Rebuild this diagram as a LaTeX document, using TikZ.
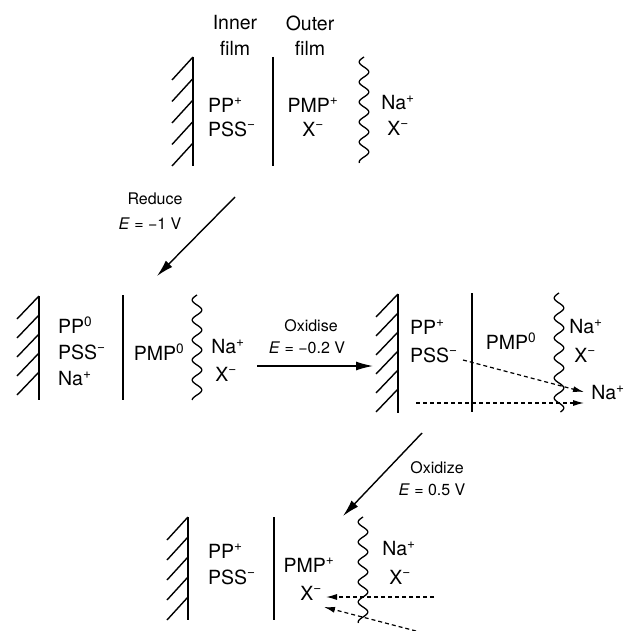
\documentclass[tikz,border=0pt]{standalone}
\usepackage{fontspec}
\setmainfont{TeX Gyre Heros}
\usetikzlibrary{arrows.meta}
\newcommand{\supx}[1]{\textsuperscript{#1}}
\newcommand{\mns}{\textsuperscript{−}}
\newcommand{\wallat}[3]{%
  \draw[wallline] (#1,#2) -- (#1,#3);}
\newcommand{\wavyat}[3]{%
  \draw[wave] plot[domain=#2:#3,samples=100,smooth,variable=\t] ({#1-4.8*sin((\t-#2)*18)},\t);}
\tikzset{
  txt/.style={font=\fontsize{19.5}{22}\selectfont, inner sep=0pt},
  lbl/.style={font=\fontsize{16}{19}\selectfont, inner sep=0pt},
  wallline/.style={line width=1.9pt},
  hatchline/.style={line width=1.4pt},
  divline/.style={line width=1.4pt},
  wave/.style={line width=1.3pt},
  bigarrow/.style={line width=1.4pt, -{Latex[length=17pt,width=9pt]}},
  dasharrow/.style={line width=1.2pt, dash pattern=on 4pt off 3pt, -{Latex[length=11pt,width=6pt]}}
}
\begin{document}
\begin{tikzpicture}[x=1pt,y=-1pt]
\useasboundingbox (0,0) rectangle (628,631);

% ---------- top panel ----------
\wallat{193}{57}{166}
\foreach \h in {57,78.5,100,121.5,143} \draw[hatchline] (193,\h) -- (172,\h+23);
\draw[divline] (273,57) -- (273,166);
\wavyat{364}{57}{163}
\node[txt] (inner) at (235,23) {Inner};
\node[txt] (film1) at (235,48) {film};
\node[txt] (outer) at (310,23) {Outer};
\node[txt] (film2) at (310,48) {film};
\node[txt,anchor=west] (tpp) at (208,105) {PP\supx{+}};
\node[txt,anchor=west] (tpss) at (208,129) {PSS\mns};
\node[txt] (tpmp) at (313,105) {PMP\supx{+}};
\node[txt] (tx1) at (313,129) {X\mns};
\node[txt] (tna) at (398,103) {Na\supx{+}};
\node[txt] (tx2) at (398,128) {X\mns};

% Reduce arrow
\coordinate (r1) at (235,197);
\coordinate (r2) at (157,276);
\draw[bigarrow] (r1) -- (r2);
\node[lbl] (red) at (155,199) {Reduce};
\node[lbl] (rede) at (150,224) {\textit{E} = −1 V};

% ---------- middle-left panel ----------
\wallat{39}{296}{400}
\foreach \h in {296,315,334,353,372} \draw[hatchline] (39,\h) -- (17,\h+23);
\draw[divline] (123,295) -- (123,400);
\wavyat{197}{295}{400}
\node[txt,anchor=west] (lpp) at (58,325) {PP\supx{0}};
\node[txt,anchor=west] (lpss) at (58,352) {PSS\mns};
\node[txt,anchor=west] (lna) at (58,379) {Na\supx{+}};
\node[txt] (lpmp) at (159,352) {PMP\supx{0}};
\node[txt] (lna2) at (228,347) {Na\supx{+}};
\node[txt] (lx) at (226,374) {X\mns};

% Oxidise arrow
\coordinate (o1) at (257,366);
\coordinate (o2) at (373,366);
\draw[bigarrow] (o1) -- (o2);
\node[lbl] (oxl) at (311,326) {Oxidise};
\node[lbl] (oxe) at (307,348) {\textit{E} = −0.2 V};

% ---------- middle-right panel ----------
\wallat{398}{294}{413}
\foreach \h in {294,313,332,351,370,389} \draw[hatchline] (398,\h) -- (376,\h+23);
\draw[divline] (472,293) -- (472,412);
\wavyat{559}{293}{412}
\node[txt,anchor=west] (rpp) at (410,327) {PP\supx{+}};
\node[txt,anchor=west] (rpss) at (410,355) {PSS\mns};
\node[txt] (rpmp) at (511,341) {PMP\supx{0}};
\node[txt] (rna) at (586,327) {Na\supx{+}};
\node[txt] (rx) at (585,355) {X\mns};
\node[txt] (rna2) at (608,393) {Na\supx{+}};
\coordinate (d1s) at (463,360);
\coordinate (d1e) at (584,392);
\draw[dasharrow] (d1s) -- (d1e);
\coordinate (d2s) at (416,403);
\coordinate (d2e) at (584,403);
\draw[dasharrow] (d2s) -- (d2e);

% Oxidize arrow
\coordinate (q1) at (422,433);
\coordinate (q2) at (343,516);
\draw[bigarrow] (q1) -- (q2);
\node[lbl] (oxzl) at (437,468) {Oxidize};
\node[lbl] (oxze) at (432,490) {\textit{E} = 0.5 V};

% ---------- bottom panel ----------
\wallat{188}{517}{620}
\foreach \h in {517,537,557,577,597} \draw[hatchline] (188,\h) -- (167,\h+23);
\draw[divline] (274,517) -- (274,620);
\wavyat{363}{517}{623}
\node[txt,anchor=west] (bpp) at (208,551) {PP\supx{+}};
\node[txt,anchor=west] (bpss) at (208,577) {PSS\mns};
\node[txt] (bpmp) at (309,565) {PMP\supx{+}};
\node[txt] (bx) at (311,593) {X\mns};
\node[txt] (bna) at (399,549) {Na\supx{+}};
\node[txt] (bx2) at (400,577) {X\mns};
\coordinate (d3s) at (434,597);
\coordinate (d3e) at (326,597);
\draw[dasharrow] (d3s) -- (d3e);
\coordinate (d4s) at (416,631);
\coordinate (d4e) at (324,607);
\draw[dasharrow] (d4s) -- (d4e);
\end{tikzpicture}
\end{document}
